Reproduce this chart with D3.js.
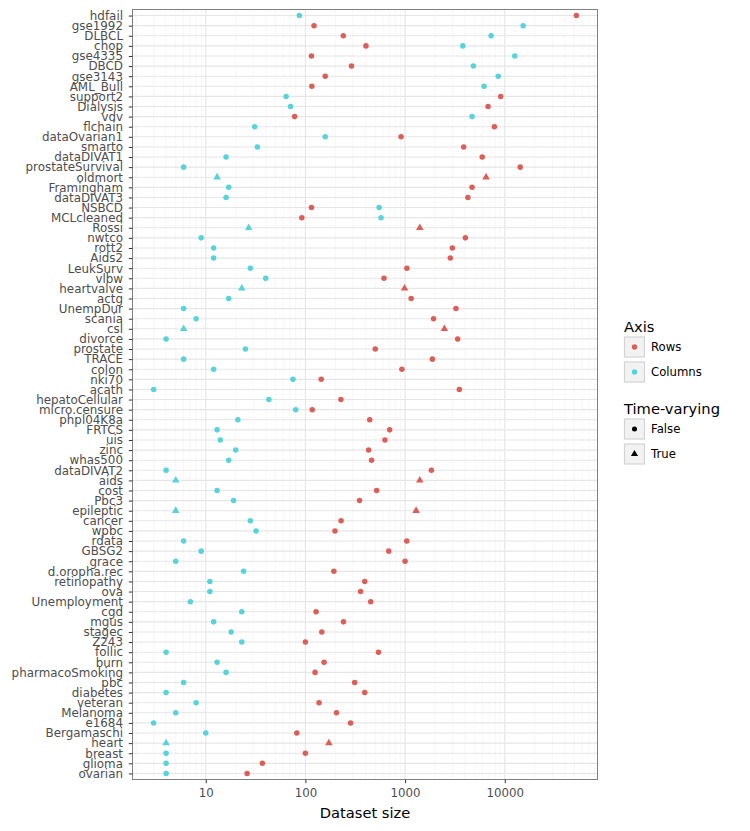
<!DOCTYPE html>
<html>
<head>
<meta charset="utf-8">
<script src="https://cdn.jsdelivr.net/npm/d3@7"></script>
<style>
  body { margin: 0; background: #fff; }
  text { font-family: "DejaVu Sans", sans-serif; }
</style>
</head>
<body>
<div id="chart"></div>
<script>
// datasets, top to bottom
var datasets = ["hdfail","gse1992","DLBCL","chop","gse4335","DBCD","gse3143","AML_Bull","support2","Dialysis",
  "vdv","flchain","dataOvarian1","smarto","dataDIVAT1","prostateSurvival","oldmort","Framingham","dataDIVAT3","NSBCD",
  "MCLcleaned","Rossi","nwtco","rott2","Aids2","LeukSurv","vlbw","heartvalve","actg","UnempDur",
  "scania","csl","divorce","prostate","TRACE","colon","nki70","acath","hepatoCellular","micro.censure",
  "phpl04K8a","FRTCS","uis","zinc","whas500","dataDIVAT2","aids","cost","Pbc3","epileptic",
  "cancer","wpbc","rdata","GBSG2","grace","d.oropha.rec","retinopathy","ova","Unemployment","cgd",
  "mgus","stagec","Z243","follic","burn","pharmacoSmoking","pbc","diabetes","veteran","Melanoma",
  "e1684","Bergamaschi","heart","breast","glioma","ovarian"];

var rows = [52311,122,240,405,115,290,158,116,9105,6805,
  78,7874,912,3873,5943,14294,6495,4699,4267,115,
  92,1405,4028,2982,2843,1043,614,988,1151,3241,
  1931,2480,3371,502,1878,929,144,3504,227,117,
  442,700,628,431,461,1837,1405,518,349,1290,
  228,198,1040,686,1000,193,394,358,452,128,
  241,146,100,541,154,125,312,394,137,205,
  284,82,172,100,37,26];

var columns = [87,15300,7300,3800,12600,4850,8600,6200,64,71,
  4700,31,158,33,16,6,13,17,16,549,
  574,27,9,12,12,28,40,23,17,6,
  8,6,4,25,6,12,75,3,43,80,
  21,13,14,20,17,4,5,13,19,5,
  28,32,6,9,5,24,11,11,7,23,
  12,18,23,4,13,16,6,4,8,5,
  3,10,4,4,4,4];

var timeVarying = ["oldmort","Rossi","heartvalve","csl","aids","epileptic","heart"];

var axisLevels = ["Rows", "Columns"];
var axisColors = ["#db5f57", "#57d3db"];
var tvLevels = ["False", "True"];

var W = 750, H = 831;
var margin = {top: 9.5, left: 132.5, right: 152.5, bottom: 51.5};
var pw = W - margin.left - margin.right,
    ph = H - margin.top - margin.bottom;

var svg = d3.select("#chart").append("svg")
    .attr("width", W).attr("height", H);

var points = [];
datasets.forEach(function(d, i){
  var tv = timeVarying.indexOf(d) >= 0 ? "True" : "False";
  points.push({name: d, axis: "Rows", value: rows[i], tv: tv});
  points.push({name: d, axis: "Columns", value: columns[i], tv: tv});
});

// log scale with ggplot-like 5% expansion
var ext = d3.extent(points, function(d){ return Math.log10(d.value); });
var pad = (ext[1] - ext[0]) * 0.05;
var x = d3.scaleLog()
    .domain([Math.pow(10, ext[0] - pad), Math.pow(10, ext[1] + pad)])
    .range([margin.left, margin.left + pw]);

var y = d3.scalePoint()
    .domain(datasets)
    .range([margin.top, margin.top + ph])
    .padding(0.6);

var color = d3.scaleOrdinal().domain(axisLevels).range(axisColors);
var shape = d3.scaleOrdinal().domain(tvLevels).range([d3.symbolCircle, d3.symbolTriangle]);
var symSize = {"False": 24, "True": 25};

var g = svg.append("g");

// panel background
g.append("rect")
  .attr("x", margin.left).attr("y", margin.top)
  .attr("width", pw).attr("height", ph)
  .attr("fill", "#fff");

// minor grid (2..9 per decade)
var minor = [];
for (var e = 0; e <= 4; e++) {
  for (var m = 2; m <= 9; m++) {
    var v = m * Math.pow(10, e);
    if (v > x.domain()[0] && v < x.domain()[1]) minor.push(v);
  }
}
g.selectAll(".minor").data(minor).enter().append("line")
  .attr("x1", function(d){ return x(d); }).attr("x2", function(d){ return x(d); })
  .attr("y1", margin.top).attr("y2", margin.top + ph)
  .attr("stroke", "#f2f2f2").attr("stroke-width", 0.6);

var major = [10, 100, 1000, 10000];
g.selectAll(".major").data(major).enter().append("line")
  .attr("x1", function(d){ return x(d); }).attr("x2", function(d){ return x(d); })
  .attr("y1", margin.top).attr("y2", margin.top + ph)
  .attr("stroke", "#e6e6e6").attr("stroke-width", 1.1);

g.selectAll(".hgrid").data(datasets).enter().append("line")
  .attr("x1", margin.left).attr("x2", margin.left + pw)
  .attr("y1", function(d){ return y(d); }).attr("y2", function(d){ return y(d); })
  .attr("stroke", "#e6e6e6").attr("stroke-width", 1.1);

// points
g.selectAll(".pt").data(points).enter().append("path")
  .attr("transform", function(d){ return "translate(" + x(d.value) + "," + y(d.name) + ")"; })
  .attr("d", function(d){ return d3.symbol().type(shape(d.tv)).size(symSize[d.tv])(); })
  .attr("fill", function(d){ return color(d.axis); });

// panel border
g.append("rect")
  .attr("x", margin.left).attr("y", margin.top)
  .attr("width", pw).attr("height", ph)
  .attr("fill", "none").attr("stroke", "#808080").attr("stroke-width", 1);

// axes
var xAxis = d3.axisBottom(x).tickValues(major).tickFormat(d3.format("d"))
    .tickSize(3.7).tickPadding(5);
var gx = svg.append("g")
  .attr("transform", "translate(0," + (margin.top + ph) + ")")
  .call(xAxis);
gx.select(".domain").remove();
gx.selectAll(".tick line").attr("stroke", "#333");
gx.selectAll(".tick text").attr("fill", "#4d4d4d")
  .style("font-size", "11.8px").style("font-family", "DejaVu Sans");

var yAxis = d3.axisLeft(y).tickSize(3.7).tickPadding(5.8);
var gy = svg.append("g")
  .attr("transform", "translate(" + margin.left + ",0)")
  .call(yAxis);
gy.select(".domain").remove();
gy.selectAll(".tick line").attr("stroke", "#333");
gy.selectAll(".tick text").attr("fill", "#4d4d4d")
  .style("font-size", "11.9px").style("font-family", "DejaVu Sans");

svg.append("text")
  .attr("x", margin.left + pw / 2).attr("y", 818)
  .attr("text-anchor", "middle")
  .style("font-size", "14.7px").attr("fill", "#000")
  .text("Dataset size");

// legends
function legend(title, levels, top, fillFn, typeFn, sizeFn) {
  var lg = svg.append("g").attr("transform", "translate(624," + top + ")");
  lg.append("text").attr("x", 0).attr("y", 0)
    .style("font-size", "14.7px").attr("fill", "#000").text(title);
  levels.forEach(function(l, i){
    var ky = 5 + i * 25;
    lg.append("rect").attr("x", 0.5).attr("y", ky)
      .attr("width", 20).attr("height", 20)
      .attr("fill", "#f2f2f2").attr("stroke", "#d4d4d4").attr("stroke-width", 1.2);
    lg.append("path")
      .attr("transform", "translate(10.5," + (ky + 10) + ")")
      .attr("d", d3.symbol().type(typeFn(l)).size(sizeFn(l))())
      .attr("fill", fillFn(l));
    lg.append("text").attr("x", 27).attr("y", ky + 14)
      .style("font-size", "11.7px").attr("fill", "#000").text(l);
  });
}
legend("Axis", axisLevels, 332, function(l){ return color(l); },
  function(){ return d3.symbolCircle; }, function(){ return 22; });
legend("Time-varying", tvLevels, 414, function(){ return "#000"; },
  function(l){ return shape(l); }, function(l){ return l === "True" ? 22 : 20; });
</script>
</body>
</html>
